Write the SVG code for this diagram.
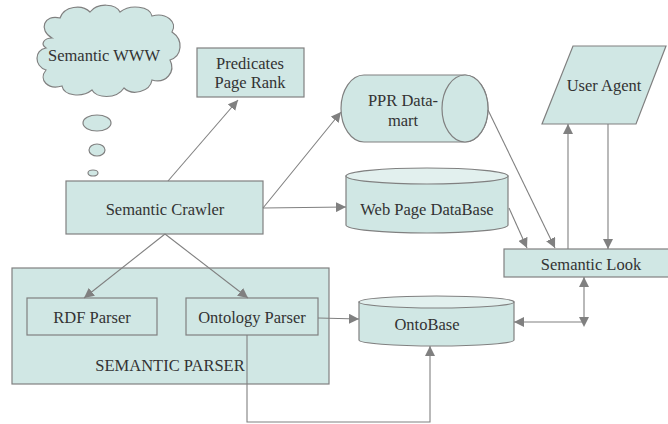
<svg xmlns="http://www.w3.org/2000/svg" width="668" height="424" viewBox="0 0 668 424">
<style>
.n{fill:#d0e7e4;stroke:#808080;stroke-width:1.2}
.t{font-family:"Liberation Serif",serif;font-size:16.5px;fill:#333;text-anchor:middle}
.c{fill:none;stroke:#808080;stroke-width:1.1}
</style>
<defs>
<marker id="a" viewBox="0 0 10 10" refX="10" refY="5" markerWidth="10" markerHeight="10" markerUnits="userSpaceOnUse" orient="auto-start-reverse">
<path d="M0,0 L10,5 L0,10 Z" fill="#808080"/>
</marker>
</defs>
<rect width="668" height="424" fill="#fff"/>
<g id="cloud">
<path class="n" d="M52,38 C38,30 44,14 60,18 C64,6 82,4 90,12 C98,2 116,4 120,12 C130,4 150,6 152,16 C166,12 178,22 172,32 C184,40 182,56 170,60 C176,72 166,84 152,80 C150,92 132,96 124,88 C116,100 96,98 92,90 C82,98 64,96 62,86 C48,90 38,80 46,70 C34,66 34,50 46,48 C40,44 44,38 52,38 Z"/>
<text class="t" x="104" y="61">Semantic WWW</text>
<ellipse class="n" cx="97" cy="123" rx="14" ry="8"/>
<ellipse class="n" cx="97" cy="150" rx="8" ry="6"/>
<ellipse class="n" cx="93" cy="173" rx="5" ry="3"/>
</g>
<g id="predicates">
<rect class="n" x="197" y="48" width="107" height="49"/>
<text class="t" x="250" y="69">Predicates</text>
<text class="t" x="250" y="88">Page Rank</text>
</g>
<g id="ppr">
<path class="n" d="M364,75 L465,75 A23,33.5 0 0 1 465,142 L364,142 A23,33.5 0 0 1 364,75 Z"/>
<ellipse class="n" cx="465" cy="108.5" rx="23" ry="33.5"/>
<text class="t" x="403" y="106">PPR Data-</text>
<text class="t" x="403" y="126">mart</text>
</g>
<g id="webdb">
<path class="n" d="M346,176 L346,225 A81,8 0 0 0 508,225 L508,176 Z"/>
<ellipse class="n" cx="427" cy="176" rx="81" ry="8" style="fill:#e2f0ee"/>
<text class="t" x="427" y="215">Web Page DataBase</text>
</g>
<g id="crawler">
<rect class="n" x="66" y="181" width="197" height="53"/>
<text class="t" x="165" y="215">Semantic Crawler</text>
</g>
<g id="semparser">
<rect class="n" x="12" y="268" width="317" height="116"/>
<text class="t" x="170" y="371">SEMANTIC PARSER</text>
</g>
<g id="rdf">
<rect class="n" x="27" y="298" width="130" height="37"/>
<text class="t" x="92" y="323">RDF Parser</text>
</g>
<g id="ontoparser">
<rect class="n" x="186" y="298" width="132" height="37"/>
<text class="t" x="252" y="323">Ontology Parser</text>
</g>
<g id="ontobase">
<path class="n" d="M359,302 L359,340 A77.5,6 0 0 0 514,340 L514,302 Z"/>
<ellipse class="n" cx="436.5" cy="302" rx="77.5" ry="6" style="fill:#e2f0ee"/>
<text class="t" x="427" y="330">OntoBase</text>
</g>
<g id="useragent">
<polygon class="n" points="573,46 666,46 636,124 542,124"/>
<text class="t" x="604" y="91">User Agent</text>
</g>
<g id="semlook">
<rect class="n" x="504" y="249" width="170" height="28"/>
<text class="t" x="591" y="270">Semantic Look</text>
</g>
<g id="connectors">
<line class="c" x1="168" y1="181" x2="238" y2="100" marker-end="url(#a)"/>
<line class="c" x1="263" y1="208" x2="341" y2="112" marker-end="url(#a)"/>
<line class="c" x1="263" y1="208" x2="346" y2="207" marker-end="url(#a)"/>
<line class="c" x1="165" y1="234" x2="84" y2="298" marker-end="url(#a)"/>
<line class="c" x1="165" y1="234" x2="248" y2="298" marker-end="url(#a)"/>
<line class="c" x1="318" y1="318" x2="359" y2="319" marker-end="url(#a)"/>
<polyline class="c" points="247,335 247,422 430,422 430,346" marker-end="url(#a)"/>
<line class="c" x1="488" y1="110" x2="555" y2="248" marker-end="url(#a)"/>
<line class="c" x1="509" y1="208" x2="527" y2="248" marker-end="url(#a)"/>
<line class="c" x1="568" y1="249" x2="568" y2="124" marker-end="url(#a)"/>
<line class="c" x1="608" y1="124" x2="608" y2="249" marker-end="url(#a)"/>
<polyline class="c" points="584,277 584,322 514,322" marker-start="url(#a)" marker-end="url(#a)"/>
<path d="M579,317 L589,317 L584,327 Z" fill="#808080"/>
</g>
</svg>
